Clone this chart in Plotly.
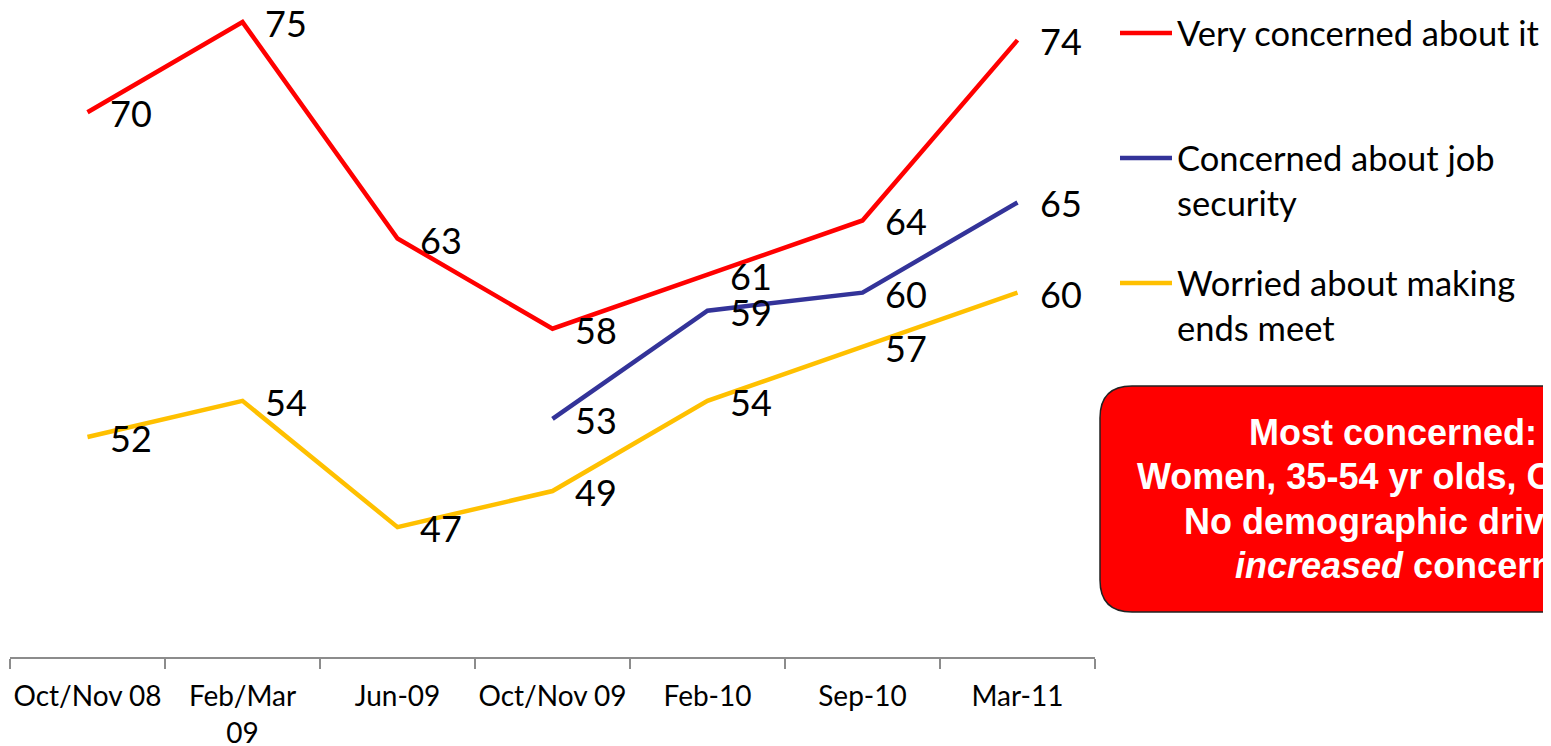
import plotly.graph_objects as go

categories = ["Oct/Nov 08", "Feb/Mar 09", "Jun-09", "Oct/Nov 09", "Feb-10", "Sep-10", "Mar-11"]
tick_labels = ["Oct/Nov 08", "Feb/Mar<br>09", "Jun-09", "Oct/Nov 09", "Feb-10", "Sep-10", "Mar-11"]
very_concerned = [70, 75, 63, 58, 61, 64, 74]
job_security = [None, None, None, 53, 59, 60, 65]
making_ends_meet = [52, 54, 47, 49, 54, 57, 60]
series_names = ["Very concerned about it", "Concerned about job<br>security",
                "Worried about making<br>ends meet"]
series_colors = ["#FF0000", "#333399", "#FFC000"]
box_lines = ["Most concerned:", "Women, 35-54 yr olds, Ontario",
             "No demographic drivers of", "<i>increased</i> concern"]

# the page body has an 8px margin; size the figure to fill the window exactly
OFF = 8
W, H = 1551 - OFF, 746 - OFF
ML, MR, MT, MB = 2, 456, 0, 89
PW, PH = W - ML - MR, H - MT - MB
FONT = "Lato"


def px_x(px):
    """page pixel x -> paper x"""
    return (px - OFF - ML) / PW


def px_y(py):
    """page pixel y -> paper y"""
    return (H - MB - (py - OFF)) / PH


series = [very_concerned, job_security, making_ends_meet]
legend_ids = ["legend", "legend2", "legend3"]

fig = go.Figure()
for vals, name, col, lg in zip(series, series_names, series_colors, legend_ids):
    fig.add_trace(go.Scatter(
        x=categories, y=vals, name=name, mode="lines",
        line=dict(color=col, width=4.5), connectgaps=False,
        legend=lg, hoverinfo="skip",
    ))

annotations = []
for vals in series:
    for c, v in zip(categories, vals):
        if v is None:
            continue
        annotations.append(dict(
            x=c, y=v, xref="x", yref="y", text=str(v), showarrow=False,
            xanchor="left", yanchor="middle", xshift=20, yshift=-1,
            font=dict(family=FONT, size=36, color="black"),
        ))

# red callout box (runs off the right edge, as in the original)
x0, x1 = px_x(1100), px_x(1720)
yt, yb = px_y(386), px_y(612)
rx, ry = 32 / PW, 32 / PH
path = (f"M {x0+rx},{yt} L {x1-rx},{yt} Q {x1},{yt} {x1},{yt-ry} "
        f"L {x1},{yb+ry} Q {x1},{yb} {x1-rx},{yb} L {x0+rx},{yb} "
        f"Q {x0},{yb} {x0},{yb+ry} L {x0},{yt-ry} Q {x0},{yt} {x0+rx},{yt} Z")
shapes = [dict(type="path", path=path, xref="paper", yref="paper",
               fillcolor="#FF0000", line=dict(color="#222222", width=1.5),
               layer="above")]

line_starts = [1247, 1135, 1182, 1233]
line_centers = [432, 476, 521, 565]
for txt, xs, yc in zip(box_lines, line_starts, line_centers):
    annotations.append(dict(
        x=px_x(xs), y=px_y(yc), xref="paper", yref="paper", text=f"<b>{txt}</b>",
        showarrow=False, xanchor="left", yanchor="middle",
        font=dict(family="Liberation Sans, Arial", size=36, color="white"),
    ))

legend_common = dict(font=dict(family=FONT, size=34.5, color="black"),
                     bgcolor="rgba(0,0,0,0)", valign="top", xanchor="left",
                     yanchor="top", itemwidth=52, itemclick=False,
                     itemdoubleclick=False)
fig.update_layout(
    legend=dict(x=px_x(1115), y=px_y(4), **legend_common),
    legend2=dict(x=px_x(1115), y=px_y(129), **legend_common),
    legend3=dict(x=px_x(1115), y=px_y(254), **legend_common),
)

fig.update_layout(
    width=W, height=H,
    margin=dict(l=ML, r=MR, t=MT, b=MB, autoexpand=False),
    paper_bgcolor="white", plot_bgcolor="white",
    showlegend=True,
    xaxis=dict(
        type="category", categoryorder="array", categoryarray=categories,
        tickvals=categories, ticktext=tick_labels, range=[-0.5, 6.5],
        showgrid=False, zeroline=False, showline=True, linecolor="#8c8c8c",
        linewidth=1.5, ticks="outside", tickson="boundaries", ticklen=10,
        tickwidth=1.5, tickcolor="#8c8c8c", ticklabelstandoff=14,
        tickangle=0, automargin=False,
        tickfont=dict(family=FONT, size=28, color="black"),
    ),
    yaxis=dict(range=[39.8, 75.78], visible=False, showgrid=False, zeroline=False,
               automargin=False),
    annotations=annotations,
    shapes=shapes,
)

fig.write_html("out.html")
